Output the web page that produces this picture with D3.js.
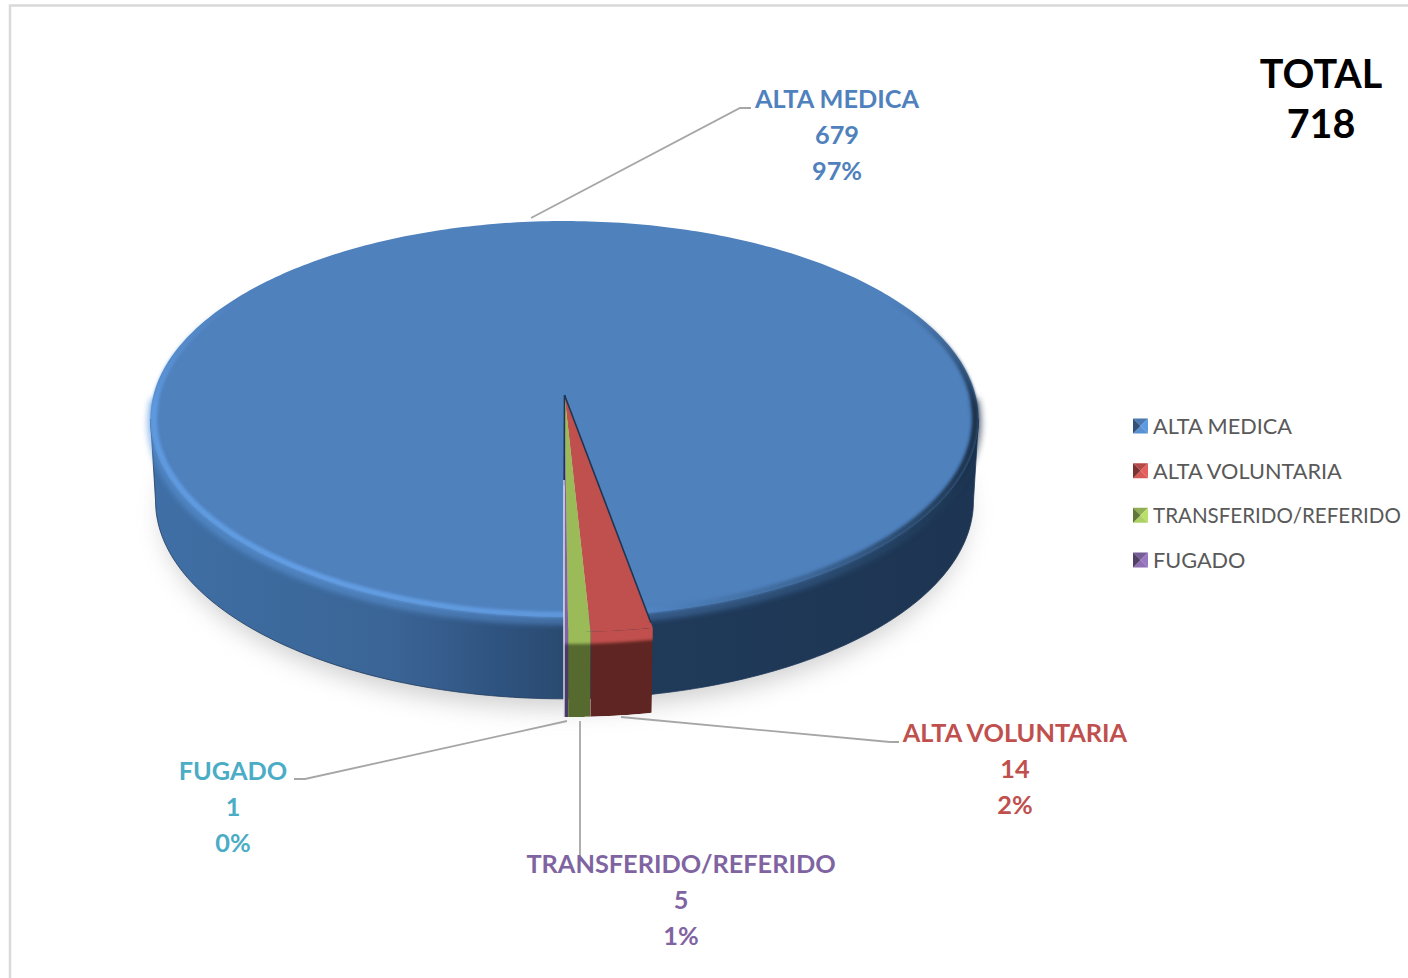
<!DOCTYPE html>
<html><head><meta charset="utf-8">
<script src="https://cdnjs.cloudflare.com/ajax/libs/d3/7.8.5/d3.min.js"></script>
<style>html,body{margin:0;padding:0;background:#fff;overflow:hidden}svg{display:block}text{font-family:Lato,"Open Sans",sans-serif}</style>
</head><body><svg id="c" width="1408" height="978"></svg>
<script>
const categories=["ALTA MEDICA","ALTA VOLUNTARIA","TRANSFERIDO/REFERIDO","FUGADO"];
const values=[679,14,5,1];
const percents=["97%","2%","1%","0%"];
const topColors=["#4f81bd","#c0504d","#9bbb59","#8064a2"];
const sideColors=["#2b4a70","#5f2522","#56692f","#4b3a69"];
const labelColors=["#4f81bd","#c0504d","#8064a2","#4bacc6"];
const titleLines=["TOTAL","718"];

const svg=d3.select("#c"), defs=svg.append("defs");
const blur=(id,s)=>defs.append("filter").attr("id",id).attr("filterUnits","userSpaceOnUse").attr("x",0).attr("y",0).attr("width",1408).attr("height",978)
  .append("feGaussianBlur").attr("stdDeviation",s);
blur("b1",1.8); blur("b2",12); blur("b3",3);
const grad=(id,x1,x2,stops)=>{const g=defs.append("linearGradient").attr("id",id).attr("gradientUnits","userSpaceOnUse")
  .attr("x1",x1).attr("x2",x2).attr("y1",0).attr("y2",0);
  stops.forEach(s=>g.append("stop").attr("offset",s[0]).attr("stop-color",s[1]));};
grad("wall",150,978,[[0,"#3f6fa6"],[.12,"#3d6b9f"],[.3,"#3a6495"],[.42,"#2f5380"],[.5,"#2a4a70"],[.6,"#203a5a"],[1,"#1d3552"]]);
grad("rim",150,978,[[0,"#5f9adf"],[.2,"#639ee4"],[.5,"#5f98dc"],[.62,"#4f81bd"],[.8,"#3c6695"],[.95,"#24405f"],[1,"#1a2f48"]]);
const fade=defs.append("linearGradient").attr("id","fade").attr("gradientUnits","userSpaceOnUse").attr("x1",0).attr("x2",0).attr("y1",300).attr("y2",410);
fade.append("stop").attr("offset",0).attr("stop-color","#000");
fade.append("stop").attr("offset",1).attr("stop-color","#fff");
defs.append("mask").attr("id","rimMask").attr("maskUnits","userSpaceOnUse").attr("x",0).attr("y",0).attr("width",1408).attr("height",978)
  .append("rect").attr("width",1408).attr("height",978).attr("fill","url(#fade)");

// projection of the tilted disc
const cx=564.5, cy=395, Rpx=411, persp=-0.121, yA=147.2;
const rScale=d3.scaleLinear().domain([0,1]).range([0,1]);
const proj=(ang,r=1,depth=0)=>{const u=rScale(r)*Math.sin(ang), v=-rScale(r)*Math.cos(ang), w=1+persp*v;
  const sh=1-depth*0.00015;
  return [cx+Rpx*sh*u/w,(yA*v+cy)/w+depth];};
const line=d3.line();
const arcPts=(a0,a1,r,depth,n=180)=>d3.range(n+1).map(i=>proj(a0+(a1-a0)*i/n,r,depth));

const pie=d3.pie().sort(null).value(d=>d).startAngle(180.1*Math.PI/180).endAngle((180.1+360)*Math.PI/180);
const arcs=pie(values);
const radii=[1,1.06,1.06,1.06], depths=[82,85,85,85];

// frame
svg.append("path").attr("d",line([[10,978],[10,5.5],[1408,5.5]])).attr("fill","none").attr("stroke","#d9d9d9").attr("stroke-width",2.5);

// shadow
svg.append("path").attr("d",line(arcPts(0,2*Math.PI,0.985,95,240))+"Z").attr("fill","#a8a8a8").attr("opacity",.55).attr("filter","url(#b2)");

// main body wall, from one widest point of the projected disc round the front to the other
const PI=Math.PI, wideA=Math.asin(-persp);
svg.append("path").attr("d",line([...arcPts(PI/2+wideA,1.5*PI-wideA,1,0),...arcPts(1.5*PI-wideA,PI/2+wideA,1,82)])+"Z").attr("fill","url(#wall)").attr("stroke","#1f3a5c").attr("stroke-width",.8);

// main top face
const sliceTop=(d,r)=>line([[cx,cy],...arcPts(d.startAngle,d.endAngle,r,0,Math.max(8,Math.ceil((d.endAngle-d.startAngle)*60)))])+"Z";
svg.append("path").attr("d",sliceTop(arcs[0],1)).attr("fill",topColors[0]);
// soft transition below rim on the wall
svg.append("path").attr("d",line(arcPts(0.5*PI,1.5*PI,1,4,200))).attr("fill","none").attr("stroke","url(#rim)").attr("stroke-width",6).attr("opacity",.7).attr("filter","url(#b3)");
// bevel rim, fading out towards the back of the disc
svg.append("g").attr("mask","url(#rimMask)").append("path").attr("d",line(arcPts(0.25*PI,1.75*PI,.992,0,240)))
  .attr("fill","none").attr("stroke","url(#rim)").attr("stroke-width",6).attr("filter","url(#b1)");

// small slices
[1,2,3].forEach(i=>{const d=arcs[i], r=radii[i], k=depths[i];
  const top=arcPts(d.startAngle,d.endAngle,r,0,10), bot=arcPts(d.endAngle,d.startAngle,r,k,10);
  svg.append("clipPath").attr("id","s"+i).append("path").attr("d",line([...top,...bot])+"Z");
  const g=svg.append("g").attr("clip-path","url(#s"+i+")");
  g.append("path").attr("d",line([...top,...bot])+"Z").attr("fill",sideColors[i]);
  g.append("path").attr("d",line(arcPts(d.startAngle-.1,d.endAngle+.1,r,2,10))).attr("fill","none").attr("stroke",topColors[i]).attr("stroke-width",20).attr("filter","url(#b1)");
  svg.append("path").attr("d",sliceTop(d,r)).attr("fill",topColors[i]);
});
// slice edges
const apexEdge=(a,r,c,w)=>svg.append("path").attr("d",line([[cx,cy],proj(a,r,0)])).attr("fill","none").attr("stroke",c).attr("stroke-width",w);
apexEdge(arcs[1].startAngle,1.04,"#1f3552",1.6);
apexEdge(arcs[3].endAngle,.44,"#1f3552",1.6);
svg.append("path").attr("d",line([[cx-.5,480],[cx-.5,717]])).attr("stroke","#e8edf3").attr("stroke-width",1.3).attr("fill","none");

// leader lines (label anchors)
const leaders=[[[531,218],[740,108],[751,108]],[[621,717],[890,742],[899,742]],[[580,721],[580,857]],[[567,721],[305,779],[294,779]]];
leaders.forEach(l=>svg.append("path").attr("d",line(l)).attr("fill","none").attr("stroke","#a6a6a6").attr("stroke-width",1.8));

// data labels
const labelPos=[[837,108],[1015,742],[681,873],[233,780]];
categories.forEach((c,i)=>{const g=svg.append("g").attr("font-size",25.3).attr("font-weight",700).attr("fill",labelColors[i]).attr("text-anchor","middle");
  [c,values[i],percents[i]].forEach((t,j)=>g.append("text").attr("x",labelPos[i][0]).attr("y",labelPos[i][1]+j*36).text(t));});

// title
titleLines.forEach((t,i)=>svg.append("text").attr("x",1321).attr("y",88+i*50).attr("text-anchor","middle").attr("font-size",39.5).attr("font-weight",700).attr("fill","#000").text(t));

// legend
const legY=d3.scalePoint().domain(categories).range([426,560]);
const s=7.5, legMax=248, legFont=21.7;
categories.forEach((c,i)=>{const y=legY(c), x=1140.5, col=d3.color(topColors[i]);
  const faces=[[[-s,-s],[s,-s],[0,0],col.darker(.2)],[[s,-s],[s,s],[0,0],col.brighter(.5)],[[s,s],[-s,s],[0,0],col.brighter(.3)],[[-s,s],[-s,-s],[0,0],col.darker(1.3)]];
  faces.forEach(f=>svg.append("path").attr("d",line(f.slice(0,3).map(p=>[x+p[0],y+p[1]]))+"Z").attr("fill",f[3]));
  const t=svg.append("text").attr("x",1153).attr("y",y+8).attr("font-size",legFont).attr("fill","#595959").text(c);
  const len=t.node().getComputedTextLength();
  if(len>legMax) t.attr("font-size",legFont*legMax/len);
});
</script></body></html>
